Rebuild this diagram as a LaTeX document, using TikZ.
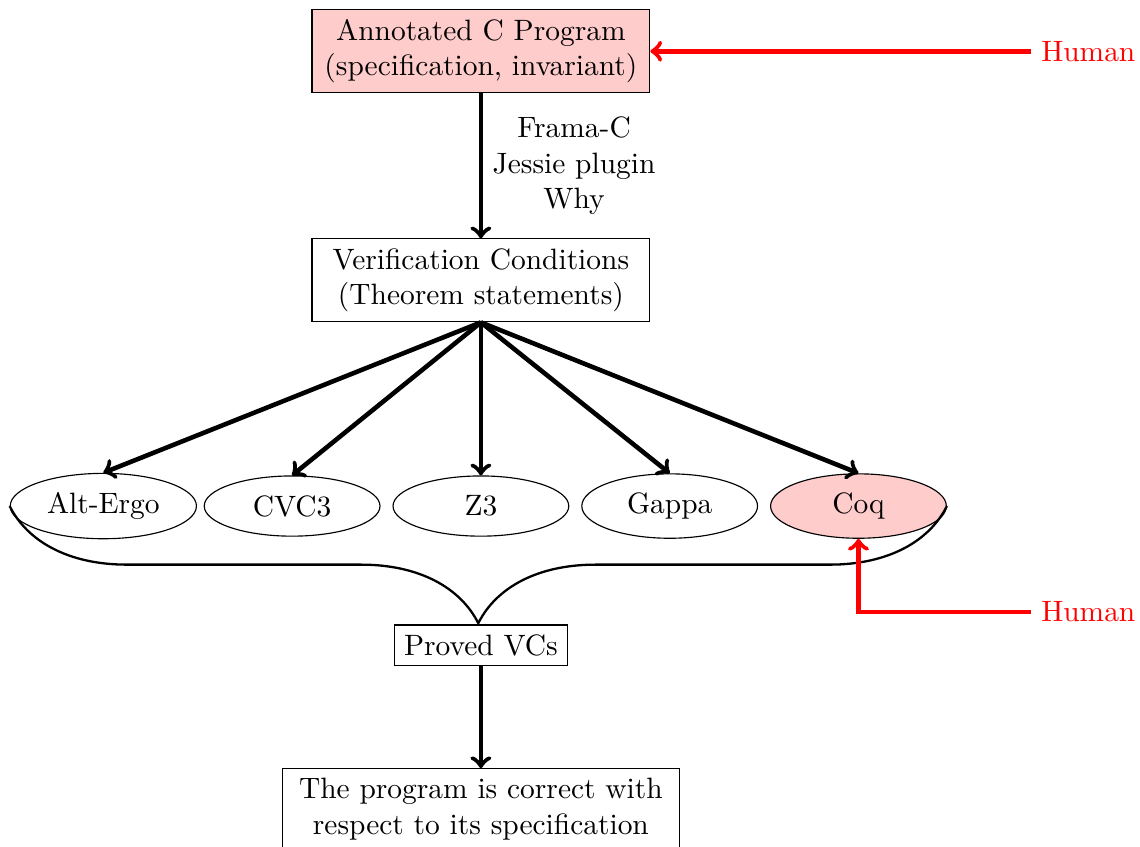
\documentclass[tikz,border=0pt]{standalone}
\usetikzlibrary{shapes.geometric}
\usetikzlibrary{positioning}
\usetikzlibrary{decorations.pathreplacing}
\begin{document}
\begin{tikzpicture}
			[
				font = \fontsize{10.3pt}{12.5pt}\selectfont,
				mybox/.style = {draw, rectangle, align = center},
				mysolver/.style = {draw, ellipse, minimum width = 2.16cm, minimum height = 0.74cm},
				myarrow/.style = {-to, ultra thick},
				myhuman/.style = {text = red},
				myhumanarrow/.style = {-to, ultra thick, red},
				mybrace/.style = {decorate, decoration = {brace, amplitude = 1.44cm}, thick}
			]
			\useasboundingbox (-5.91,0.63) rectangle (8.10,-9.77);
			%
			\node (program) [mybox, fill = red!20, minimum width = 4.15cm, minimum height = 1.01cm] {Annotated C Program\\(specification, invariant)};
			%
			\node (vcs) [mybox, below = 1.78cm of program, minimum width = 4.15cm, minimum height = 1.01cm] {Verification Conditions\\(Theorem statements)};
			\draw [myarrow] (program) -- (vcs) node [pos = 0.5, right, align = center] {Frama-C\\Jessie plugin\\Why};
			%
			\node (z3) [mysolver, below = 1.88cm of vcs] {Z3};
			\node (cvc3) [mysolver, on grid, left = 2.32cm of z3] {CVC3};
			\node (altergo) [mysolver, on grid, left = 2.32cm of cvc3] {Alt-Ergo};
			\node (gappa) [mysolver, on grid, right = 2.32cm of z3] {Gappa};
			\node (coq) [mysolver, on grid, right = 2.32cm of gappa, fill = red!20] {Coq};
			%
			\foreach \solver in {altergo, cvc3, z3, gappa, coq}
				\draw [myarrow] (vcs.south) -- (\solver.north);
			%
			\draw [mybrace] (coq.east) -- (altergo.west);
			\node (proved) [mybox, on grid, below = 1.71cm of z3] {Proved VCs};
			%
			\node (correct) [mybox, below = 1.255cm of proved, minimum width = 4.88cm] {The program is correct with\\respect to its specification};
			\draw [myarrow] (proved) -- (correct);
			%
			\node (human1) [myhuman, right = 4.68cm of program] {Human};
			\draw [myhumanarrow] (human1) -- (program);
			%
			\node (human2) [myhuman, on grid, below = 6.89cm of human1] {Human};
			\draw [myhumanarrow] (human2) -| (coq);
		\end{tikzpicture}
\end{document}
